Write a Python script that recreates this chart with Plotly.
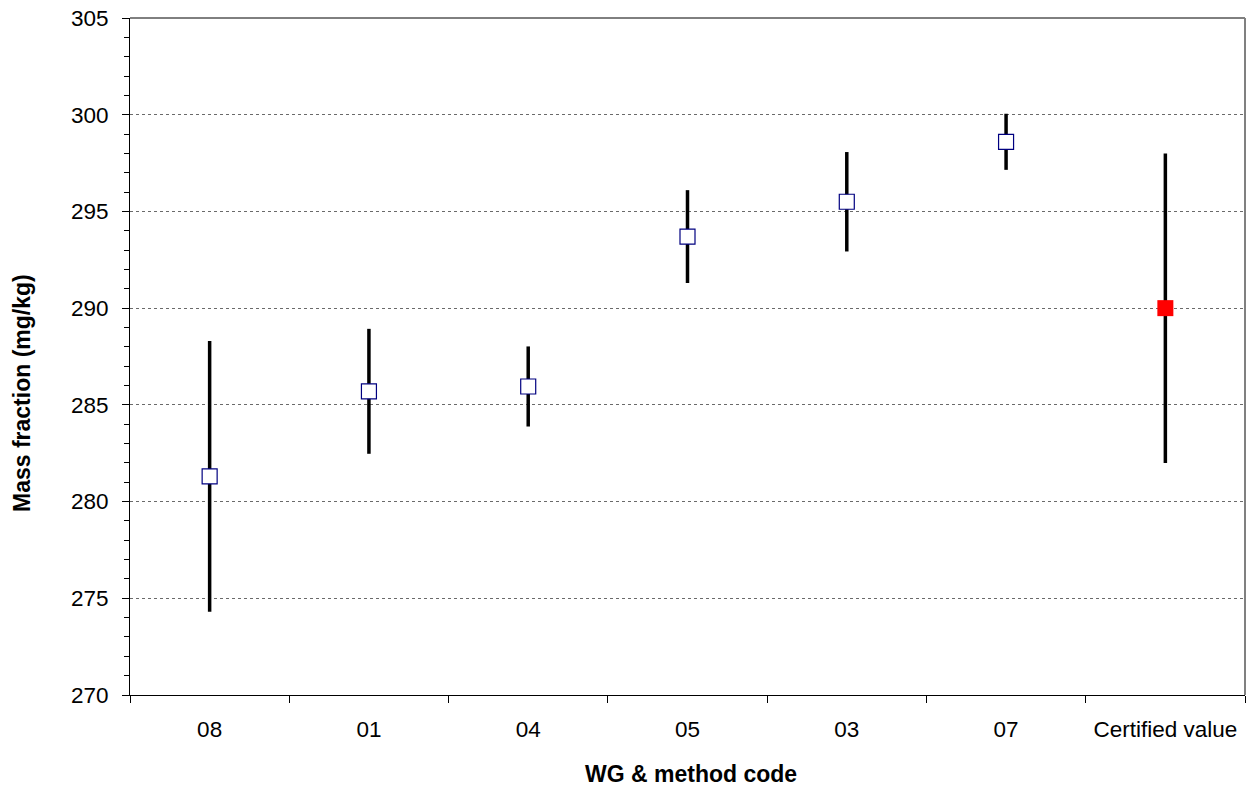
import plotly.graph_objects as go

# Data
codes = ["08", "01", "04", "05", "03", "07"]
means = [281.3, 285.7, 285.95, 293.7, 295.5, 298.6]
uncert = [7.0, 3.23, 2.07, 2.4, 2.57, 1.45]

cert_label = ["Certified value"]
cert_value = [290.0]
cert_unc = [8.0]

categories = codes + cert_label
y_ticks = [270, 275, 280, 285, 290, 295, 300, 305]

FONT = "Liberation Sans, Arial, sans-serif"
TICK_SIZE = 22.5
TITLE_SIZE = 23

fig = go.Figure()

fig.add_trace(go.Scatter(
    x=codes, y=means, mode="markers",
    marker=dict(symbol="square", size=15, color="white",
                line=dict(color="#000080", width=1.2)),
    error_y=dict(type="data", array=uncert, visible=True,
                 color="black", thickness=3.5, width=0),
    showlegend=False,
))

fig.add_trace(go.Scatter(
    x=cert_label, y=cert_value, mode="markers",
    marker=dict(symbol="square", size=16, color="#ff0000",
                line=dict(width=0)),
    error_y=dict(type="data", array=cert_unc, visible=True,
                 color="black", thickness=3.5, width=0),
    showlegend=False,
))

fig.update_layout(
    width=1251, height=789,
    margin=dict(l=130, r=6, t=18, b=94),
    paper_bgcolor="white", plot_bgcolor="white",
    font=dict(family=FONT, size=TICK_SIZE, color="black"),
    xaxis=dict(
        type="category", categoryorder="array", categoryarray=categories,
        range=[-0.5, 6.5], showgrid=False, zeroline=False,
        showline=True, linecolor="black", linewidth=1,
        ticks="outside", tickson="boundaries", ticklen=7,
        tickcolor="black", tickwidth=1, ticklabelstandoff=14,
        tickfont=dict(family=FONT, size=TICK_SIZE),
    ),
    yaxis=dict(
        range=[270, 305], tickvals=y_ticks, showgrid=True,
        gridcolor="#6a6a6a", griddash="dot", gridwidth=1,
        zeroline=False, showline=True, linecolor="black", linewidth=1,
        ticks="outside", ticklen=7, tickcolor="black", tickwidth=1,
        ticklabelstandoff=9,
        tickfont=dict(family=FONT, size=TICK_SIZE),
        minor=dict(dtick=1, ticks="outside", ticklen=5,
                   tickcolor="black", showgrid=False),
    ),
    annotations=[
        dict(text="<b>WG & method code</b>", xref="paper", yref="paper",
             x=(691 - 130) / 1115, y=-(774 - 695) / 677,
             showarrow=False, font=dict(family=FONT, size=TITLE_SIZE),
             xanchor="center", yanchor="middle"),
        dict(text="<b>Mass fraction (mg/kg)</b>", xref="paper", yref="paper",
             x=-(130 - 22) / 1115, y=(695 - 393) / 677, textangle=-90,
             showarrow=False, font=dict(family=FONT, size=TITLE_SIZE),
             xanchor="center", yanchor="middle"),
    ],
    shapes=[
        dict(type="line", xref="paper", yref="paper", x0=0, x1=1, y0=1, y1=1,
             line=dict(color="black", width=1)),
        dict(type="line", xref="paper", yref="paper", x0=1, x1=1, y0=0, y1=1,
             line=dict(color="#808080", width=2)),
    ],
)

fig.write_html("out.html")
